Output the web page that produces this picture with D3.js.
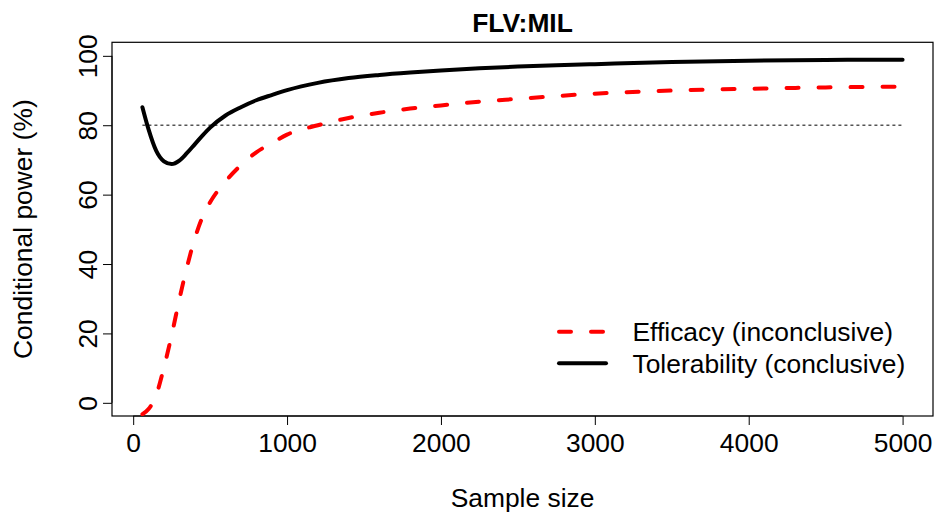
<!DOCTYPE html>
<meta charset="utf-8">

<style>
    body {
        margin: 0;
        background: #fff;
    }
    text {
        font-family: "Liberation Sans", Arial, Helvetica, sans-serif;
        fill: #000;
    }
</style>

<head>
    <title>FLV:MIL</title>
    <script src="https://d3js.org/d3.v7.min.js"></script>
</head>

<body>
    <script>

        // sample sizes the curves were read at
        var sampleSize = [60, 100, 150, 200, 250, 300, 350, 400, 450, 500,
            600, 700, 800, 900, 1000, 1200, 1400, 1600, 1800, 2000,
            2250, 2500, 2750, 3000, 3500, 4000, 4500, 5000];

        // conditional power (%), efficacy (inconclusive)
        var efficacy = [-3.3, -1.8, 2.3, 10.2, 19.5, 29.8, 39.2, 47.3, 53.5, 57.8,
            63.8, 68.5, 72.2, 74.8, 77.3, 80.0, 82.1, 83.6, 84.8, 85.7,
            86.8, 87.6, 88.4, 89.1, 90.0, 90.5, 90.9, 91.1];

        // conditional power (%), tolerability (conclusive)
        var tolerability = [85.2, 78.8, 72.6, 69.6, 68.8, 69.8, 72.0, 74.5, 77.0, 79.3,
            82.8, 85.2, 87.2, 88.7, 90.1, 92.2, 93.6, 94.5, 95.2, 95.8,
            96.4, 96.9, 97.3, 97.6, 98.2, 98.6, 98.8, 98.9];

        var xTicks = [0, 1000, 2000, 3000, 4000, 5000];
        var yTicks = [0, 20, 40, 60, 80, 100];
        var targetPower = 80;

        var legendLabels = ["Efficacy (inconclusive)", "Tolerability (conclusive)"];

        var width = 937,
            height = 517;

        // plot region (R style box) -- note: "top" is taken by window.top
        var plotLeft = 112, plotRight = 933, plotTop = 42.3, plotBottom = 416;
        var fontSize = "26.4px";

        var svg = d3.select("body").append("svg")
            .attr("width", width)
            .attr("height", height);

        // R extends the data range by 4% on each side
        var xMin = d3.min(sampleSize), xMax = d3.max(sampleSize);
        var xPad = (xMax - xMin) * 0.04;
        var x = d3.scaleLinear()
            .domain([xMin - xPad, xMax + xPad])
            .range([plotLeft, plotRight]);

        var y = d3.scaleLinear()
            .domain([-3.8, 103.9])
            .range([plotBottom, plotTop]);

        svg.append("defs").append("clipPath")
            .attr("id", "plotClip")
            .append("rect")
            .attr("x", plotLeft)
            .attr("y", plotTop)
            .attr("width", plotRight - plotLeft)
            .attr("height", plotBottom - plotTop);

        // x axis: ticks and labels below the box
        var xAxis = d3.axisBottom(x)
            .tickValues(xTicks)
            .tickSize(9)
            .tickPadding(8)
            .tickFormat(d3.format("d"));

        var gx = svg.append("g")
            .attr("transform", "translate(0," + plotBottom + ")")
            .call(xAxis);
        gx.select(".domain")
            .attr("d", "M" + x(0) + ",0H" + x(5000))
            .attr("stroke", "#000");
        gx.selectAll(".tick line").attr("stroke", "#000");
        gx.selectAll(".tick text")
            .attr("font-size", fontSize)
            .attr("font-family", "Liberation Sans, Arial, sans-serif")
            .attr("fill", "#000");

        // y axis: labels rotated like R's las = 0
        var yAxis = d3.axisLeft(y)
            .tickValues(yTicks)
            .tickSize(9)
            .tickFormat(d3.format("d"));

        var gy = svg.append("g")
            .attr("transform", "translate(" + plotLeft + ",0)")
            .call(yAxis);
        gy.select(".domain")
            .attr("d", "M0," + y(0) + "V" + y(100))
            .attr("stroke", "#000");
        gy.selectAll(".tick line").attr("stroke", "#000");
        gy.selectAll(".tick text")
            .attr("font-size", fontSize)
            .attr("font-family", "Liberation Sans, Arial, sans-serif")
            .attr("fill", "#000")
            .attr("x", null)
            .attr("dy", null)
            .attr("text-anchor", "middle")
            .attr("transform", "translate(-15,0) rotate(-90)");

        // box around plot
        svg.append("rect")
            .attr("x", plotLeft)
            .attr("y", plotTop)
            .attr("width", plotRight - plotLeft)
            .attr("height", plotBottom - plotTop)
            .attr("fill", "none")
            .attr("stroke", "#000")
            .attr("stroke-width", 1.2);

        var plot = svg.append("g").attr("clip-path", "url(#plotClip)");

        // 80% reference line
        plot.append("line")
            .attr("x1", x(xMin))
            .attr("x2", x(xMax))
            .attr("y1", y(targetPower))
            .attr("y2", y(targetPower))
            .attr("stroke", "#555")
            .attr("stroke-width", 1.3)
            .attr("stroke-dasharray", "3,3");

        var line = d3.line()
            .x(function (d) { return x(d[0]); })
            .y(function (d) { return y(d[1]); })
            .curve(d3.curveMonotoneX);

        plot.append("path")
            .datum(d3.zip(sampleSize, efficacy))
            .attr("d", line)
            .attr("fill", "none")
            .attr("stroke", "#ff0000")
            .attr("stroke-width", 4)
            .attr("stroke-linecap", "round")
            .attr("stroke-dasharray", "12,20");

        plot.append("path")
            .datum(d3.zip(sampleSize, tolerability))
            .attr("d", line)
            .attr("fill", "none")
            .attr("stroke", "#000")
            .attr("stroke-width", 4)
            .attr("stroke-linecap", "round")
            .attr("stroke-linejoin", "round");

        // title and axis labels
        svg.append("text")
            .attr("x", (plotLeft + plotRight) / 2)
            .attr("y", 31.5)
            .attr("text-anchor", "middle")
            .attr("font-size", fontSize)
            .attr("font-weight", "bold")
            .text("FLV:MIL");

        svg.append("text")
            .attr("x", (plotLeft + plotRight) / 2)
            .attr("y", 507)
            .attr("text-anchor", "middle")
            .attr("font-size", fontSize)
            .text("Sample size");

        svg.append("text")
            .attr("transform", "translate(32," + (plotTop + plotBottom) / 2 + ") rotate(-90)")
            .attr("text-anchor", "middle")
            .attr("font-size", fontSize)
            .text("Conditional power (%)");

        // legend, no box
        var legendStyles = [
            { color: "#ff0000", dash: "12,20" },
            { color: "#000", dash: null }
        ];
        var legendY = [331.7, 363.3];

        var legend = svg.append("g");
        legendLabels.forEach(function (label, i) {
            legend.append("line")
                .attr("x1", 559)
                .attr("x2", 606)
                .attr("y1", legendY[i])
                .attr("y2", legendY[i])
                .attr("stroke", legendStyles[i].color)
                .attr("stroke-width", 4)
                .attr("stroke-linecap", "round")
                .attr("stroke-dasharray", legendStyles[i].dash);
            legend.append("text")
                .attr("x", 632.5)
                .attr("y", legendY[i] + 9.4)
                .attr("font-size", fontSize)
                .text(label);
        });

    </script>
</body>

</html>
